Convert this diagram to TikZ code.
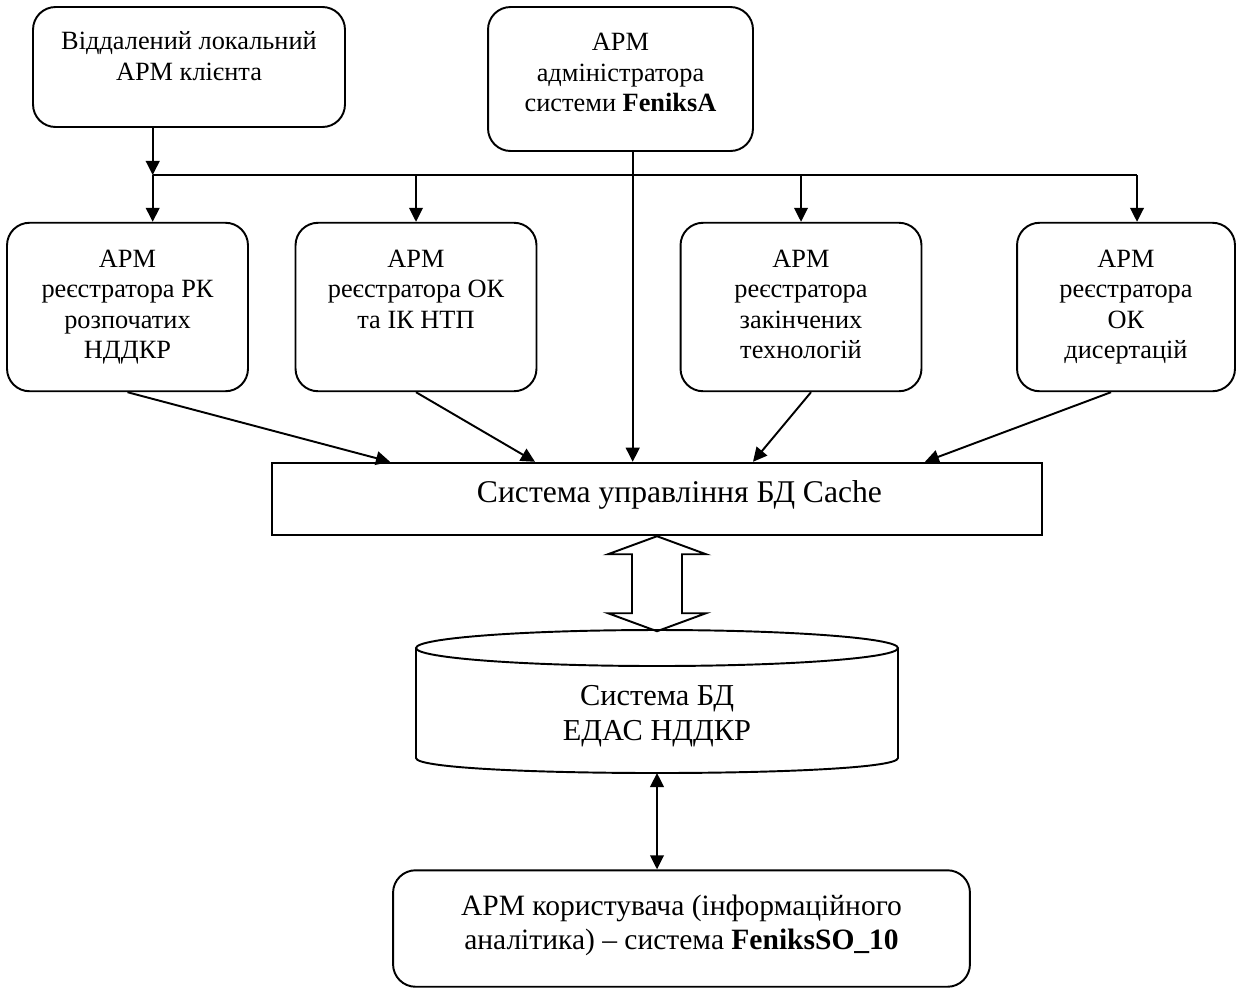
\documentclass[tikz,border=0pt]{standalone}
\usepackage{fontspec}
\setmainfont{Liberation Serif}
\usepackage{tikz}
\usetikzlibrary{arrows.meta}
\newcommand\armfont{\fontsize{15pt}{17.4pt}\selectfont}
\newcommand\bigfont{\fontsize{18pt}{21pt}\selectfont}
\newcommand\dbfont{\fontsize{17.3pt}{19.8pt}\selectfont}
\newcommand\userfont{\fontsize{16.8pt}{19.1pt}\selectfont}
\newcommand\lift[2]{\raisebox{#1}[\height][\depth]{\begin{tabular}{@{}c@{}}#2\end{tabular}}}
\tikzstyle{arm}=[rectangle,rounded corners=0.45cm,draw=black,align=center,inner sep=0mm,font=\armfont]
\tikzstyle{regbox}=[arm,minimum width=4.82cm,minimum height=3.37cm]
\tikzstyle{dbms}=[rectangle,draw=black,inner sep=0mm,font=\bigfont]
\tikzset{every picture/.style={
    line width=1.1pt
  }
}

\begin{document}
\begin{tikzpicture}[x=0.02cm,y=-0.02cm,>={Triangle[length=8pt,width=7.8pt]}]
      \useasboundingbox (0,0) rectangle (1239,988);
      \node[arm,minimum width=6.24cm,minimum height=2.4cm] at (189,67) (client) {\lift{0.16cm}{Віддалений локальний\\АРМ клієнта}};
      \node[arm,minimum width=5.3cm,minimum height=2.88cm] at (620.5,79) (admin) {\lift{0.08cm}{АРМ\\адміністратора\\системи \textbf{FeniksA}}};
      \node[regbox] at (127.5,307) (rk) {\lift{0cm}{АРМ\\реєстратора РК\\розпочатих\\НДДКР}};
      \node[regbox] at (416,307) (ok) {\lift{0.31cm}{АРМ\\реєстратора ОК\\та ІК НТП}};
      \node[regbox] at (801,307) (tech) {\lift{0cm}{АРМ\\реєстратора\\закінчених\\технологій}};
      \node[regbox,minimum width=4.36cm] at (1126,307) (dis) {\lift{0cm}{АРМ\\реєстратора\\ОК\\дисертацій}};
      \node[dbms,minimum width=15.4cm,minimum height=1.45cm] at (657,499) (cache) {\lift{0.08cm}{\hspace*{0.9cm}Система управління БД Cache}};
      \node[font=\dbfont,align=center] at (657,716) (db) {Система БД\\ЕДАС НДДКР};
      \node[arm,font=\userfont,minimum width=11.54cm,minimum height=2.33cm] at (681.5,928.5) (user) {\lift{0.05cm}{АРМ користувача (інформаційного\\аналітика) -- система \textbf{FeniksSO\_10}}};
      \coordinate (bus) at (152.7,175);
      \coordinate (busend) at (1137,175);
      \coordinate (adm) at (632.7,151);
      \coordinate (dbbot) at (657,773);
      \draw[->] (client.south -| bus) -- (bus);
      \draw (bus) -- (busend);
      \draw[->] (bus) -- (bus |- rk.north);
      \draw[->] (ok.north |- bus) -- (ok.north);
      \draw[->] (tech.north |- bus) -- (tech.north);
      \draw[->] (busend) -- (busend |- dis.north);
      \draw[->] (adm) -- (adm |- cache.north);
      \draw[->] (rk.south) -- ([xshift=-5.34cm]cache.north);
      \draw[->] (ok.south) -- ([xshift=-2.44cm]cache.north);
      \draw[->] ([xshift=0.2cm]tech.south) -- ([xshift=1.92cm]cache.north);
      \draw[->] ([xshift=-0.3cm]dis.south) -- ([xshift=5.36cm]cache.north);
      \draw (cache.south) -- ++(49,18) -- ++(-24,0) -- ++(0,59) -- ++(24,0) -- ++(-49,18)
            -- ++(-49,-18) -- ++(24,0) -- ++(0,-59) -- ++(-24,0) -- cycle;
      \draw (657,648) ellipse [x radius=4.82cm, y radius=0.36cm];
      \draw (416,648) -- (416,758) .. controls (416,778) and (898,778) .. (898,758) -- (898,648);
      \draw[<->] (dbbot) -- (dbbot |- user.north);
    \end{tikzpicture}
\end{document}
